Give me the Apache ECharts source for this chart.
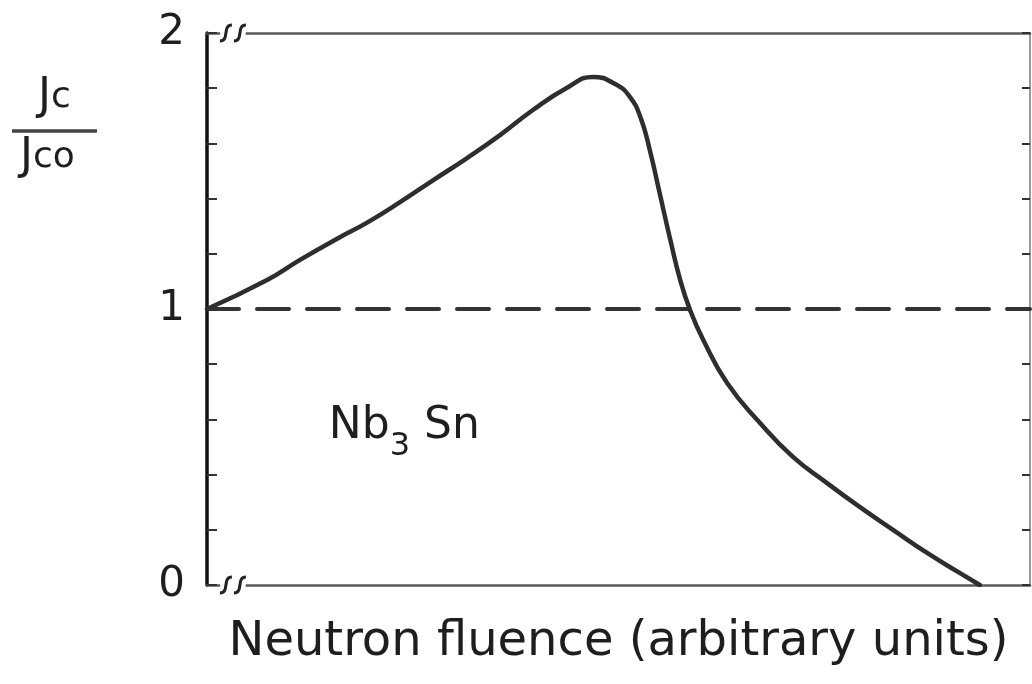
<!DOCTYPE html>
<html>
<head>
<meta charset="utf-8">
<title>Jc/Jco vs neutron fluence, Nb3Sn</title>
<script src="https://cdn.jsdelivr.net/npm/echarts@6/dist/echarts.min.js"></script>
<style>
  html, body { margin: 0; padding: 0; background: #fff; }
  #chart { width: 1032px; height: 684px; }
</style>
</head>
<body>
<div id="chart"></div>
<script>
// Neutron fluence (arbitrary units, 0-100 across the frame)
const fluence = [0, 7.3, 11.3, 16.2, 19.4, 23.5, 27.5, 31.6, 35.6, 39.6, 43.7, 46.9,
  49.6, 51.4, 52.7, 53.8, 55.0, 56.3, 57.5, 58.7, 60.3, 63.2, 67.2, 71.2,
  75.3, 79.3, 83.4, 87.5, 91.5, 93.9];
// Critical current ratio Jc / Jco
const jcRatio = [1.0, 1.105, 1.178, 1.261, 1.312, 1.388, 1.467, 1.547, 1.630, 1.721, 1.801, 1.841,
  1.815, 1.768, 1.692, 1.576, 1.420, 1.250, 1.105, 0.996, 0.888, 0.732, 0.587, 0.464,
  0.370, 0.283, 0.199, 0.116, 0.043, 0];
// Reference level (unirradiated)
const referenceLevel = 1;
// Labelled ticks on the ratio axis
const labelledTicks = [0, 1, 2];
const xTitle = 'Neutron fluence (arbitrary units)';
const materialName = 'Nb';
const materialSub = '3';
const materialTail = ' Sn';

const INK = '#2e2e2e';
const FONT = 'DejaVu Sans';

const chart = echarts.init(document.getElementById('chart'), null, { renderer: 'canvas' });

const plainAxis = {
  axisTick: { show: false }, axisLabel: { show: false }, splitLine: { show: false }
};

const option = {
  backgroundColor: '#fff',
  animation: false,
  grid: { left: 207, right: 2, top: 33, bottom: 99, containLabel: false, outerBoundsMode: 'none' },
  xAxis: [
    Object.assign({
      type: 'value', min: 0, max: 100, position: 'bottom',
      axisLine: { show: true, onZero: false, lineStyle: { color: '#5a5a5a', width: 2.5 } },
      name: xTitle, nameLocation: 'middle', nameGap: 34,
      nameTextStyle: { fontFamily: FONT, fontSize: 48, color: '#1e1e1e' }
    }, plainAxis),
    Object.assign({
      type: 'value', min: 0, max: 100, position: 'top',
      axisLine: { show: true, onZero: false, lineStyle: { color: '#5a5a5a', width: 2.5 } }
    }, plainAxis)
  ],
  yAxis: [
    {
      type: 'value', min: 0, max: 2, interval: 0.2, position: 'left',
      axisLine: { show: true, onZero: false, lineStyle: { color: '#111', width: 3.5 } },
      axisTick: { show: true, inside: true, length: 10, lineStyle: { color: '#333', width: 2 } },
      axisLabel: {
        margin: 22, fontFamily: FONT, fontSize: 42, color: '#1e1e1e',
        formatter: v => {
          const hit = labelledTicks.find(t => Math.abs(t - v) < 1e-6);
          return hit === undefined ? '' : String(hit);
        }
      },
      splitLine: { show: false }
    },
    {
      type: 'value', min: 0, max: 2, interval: 0.2, position: 'right',
      axisLine: { show: true, onZero: false, lineStyle: { color: '#777', width: 1.5 } },
      axisTick: { show: true, inside: true, length: 8, lineStyle: { color: '#333', width: 2 } },
      axisLabel: { show: false },
      splitLine: { show: false }
    }
  ],
  series: [
    {
      name: 'reference',
      type: 'line',
      data: [[0, referenceLevel], [100, referenceLevel]],
      symbol: 'none',
      lineStyle: { color: '#333', width: 4, type: [32, 18], cap: 'round' },
      silent: true, z: 2
    },
    {
      name: 'Jc/Jco',
      type: 'line',
      data: fluence.map((x, i) => [x, jcRatio[i]]),
      symbol: 'none',
      smooth: 0.5,
      lineStyle: { color: INK, width: 4.5, cap: 'round', join: 'round' },
      z: 3
    }
  ]
};
chart.setOption(option);

// Axis-break marks, ratio-axis title and material label
function decorate() {
  const gfx = [];
  const breakX = [2.3, 4.0];
  [0, 2].forEach(yv => {
    const p0 = chart.convertToPixel({ xAxisIndex: 0, yAxisIndex: 0 }, [breakX[0] - 0.7, yv]);
    const p1 = chart.convertToPixel({ xAxisIndex: 0, yAxisIndex: 0 }, [breakX[1] + 0.7, yv]);
    gfx.push({ type: 'rect', shape: { x: p0[0], y: p0[1] - 3, width: p1[0] - p0[0], height: 6 },
      style: { fill: '#fff' }, z: 10 });
    breakX.forEach(bx => {
      const c = chart.convertToPixel({ xAxisIndex: 0, yAxisIndex: 0 }, [bx, yv]);
      gfx.push({
        type: 'bezierCurve',
        shape: { x1: c[0] - 6, y1: c[1] + 8, x2: c[0] + 6, y2: c[1] - 8,
                 cpx1: c[0] + 4, cpy1: c[1] + 8, cpx2: c[0] - 4, cpy2: c[1] - 8 },
        style: { stroke: '#222', lineWidth: 3, fill: null }, z: 11
      });
    });
  });

  // Jc / Jco fraction
  const rich = {
    J: { fontFamily: FONT, fontSize: 44, fill: '#1e1e1e' },
    c: { fontFamily: FONT, fontSize: 36, fill: '#1e1e1e' }
  };
  gfx.push({ type: 'text', x: 38, y: 76, style: { text: '{J|J}{c|c}', rich }, z: 10 });
  gfx.push({ type: 'line', shape: { x1: 12, y1: 131, x2: 97, y2: 131 },
    style: { stroke: '#444', lineWidth: 3.5 }, z: 10 });
  gfx.push({ type: 'text', x: 20, y: 136, style: { text: '{J|J}{c|co}', rich }, z: 10 });

  // Material label
  const lp = chart.convertToPixel({ xAxisIndex: 0, yAxisIndex: 0 }, [14.8, 0.655]);
  gfx.push({ type: 'text', x: lp[0], y: lp[1], style: {
    text: '{m|' + materialName + '}{s|' + materialSub + '}{m|' + materialTail + '}',
    rich: {
      m: { fontFamily: FONT, fontSize: 44, fill: '#1e1e1e', verticalAlign: 'bottom' },
      s: { fontFamily: FONT, fontSize: 32, fill: '#1e1e1e', verticalAlign: 'bottom', padding: [0, 0, -14, 0] }
    } }, z: 10 });

  chart.setOption({ graphic: { elements: gfx } });
}
decorate();
</script>
</body>
</html>
